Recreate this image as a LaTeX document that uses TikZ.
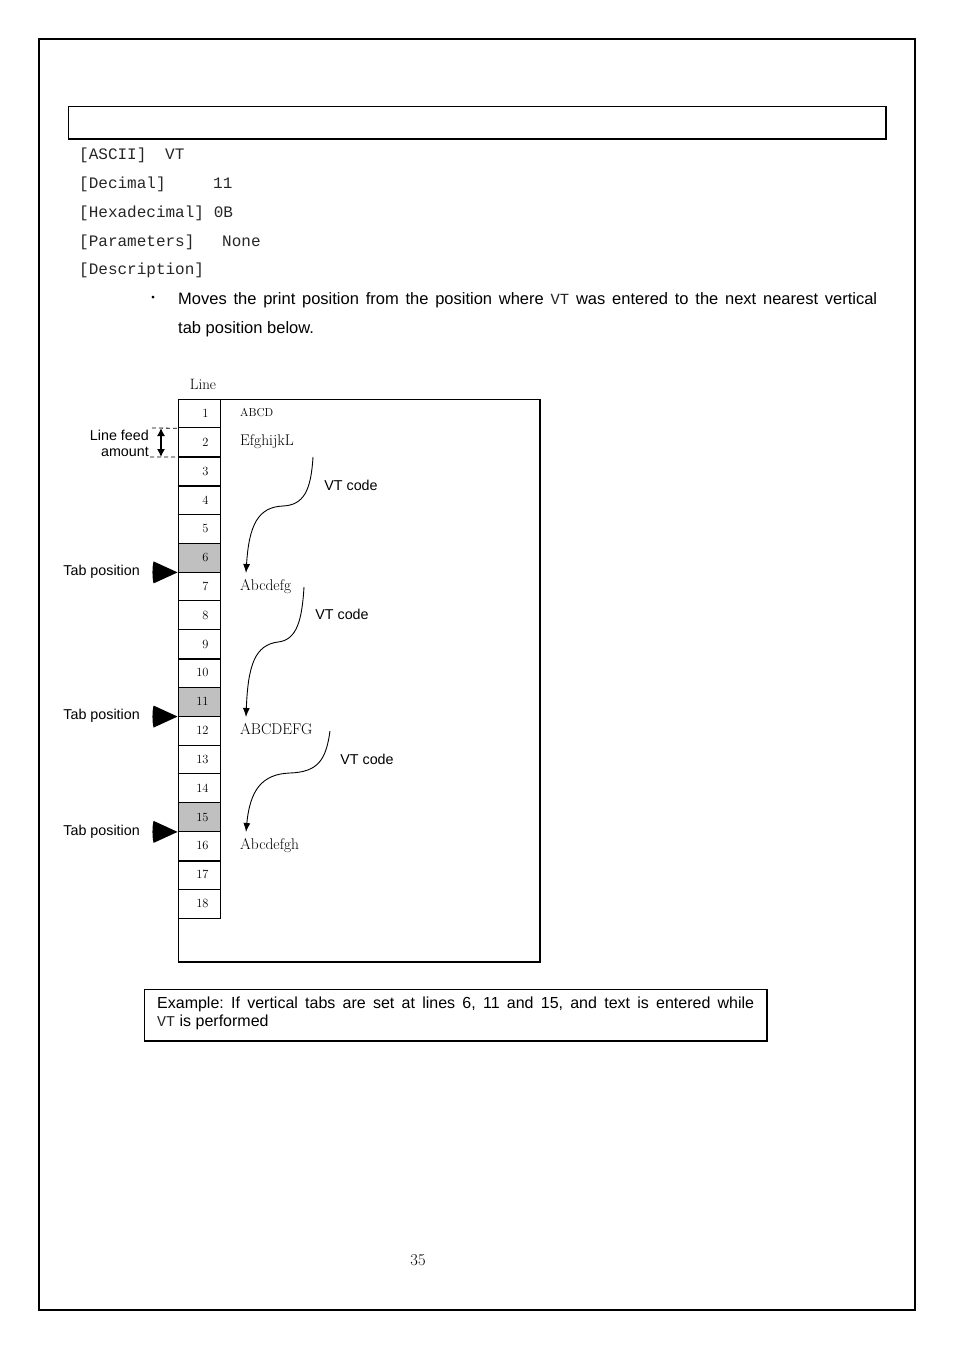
\documentclass[tikz,border=0pt]{standalone}
\usepackage{fontspec}
\setsansfont{Liberation Sans}
\setmonofont{Liberation Mono}
\newfontfamily\cjkf{Noto Sans CJK JP}
\usetikzlibrary{arrows.meta}
\definecolor{cellgray}{RGB}{192,192,192}
\frenchspacing
\tikzset{
  mono/.style={font=\ttfamily\fontsize{16}{18}\selectfont, anchor=base west, inner sep=0, text=black!85},
  cell/.style={draw, line width=0.8pt, minimum width=42pt, minimum height=28.83pt, inner sep=0pt,
     text width=19pt, align=right, font=\fontsize{12.5}{13}\selectfont},
  tabcell/.style={cell, fill=cellgray},
  sample/.style={font=\fontsize{15.5}{16}\selectfont, anchor=base west, inner sep=0},
  lbl/.style={font=\sffamily\fontsize{14.3}{16}\selectfont, inner sep=0},
  vtarrow/.style={line width=0.9pt, -{Latex[length=9pt,width=7pt]}},
  tabmark/.style={fill=black},
  lfdash/.style={line width=0.8pt, dash pattern=on 4pt off 3pt},
}
\begin{document}
\begin{tikzpicture}[x=1pt,y=-1pt]
\useasboundingbox (0,0) rectangle (954,1350);
% page border
\draw[line width=1.3pt] (39,39) rectangle (915,1310);
% header box
\draw[line width=0.8pt] (68,106) rectangle (886,139);
\draw[line width=1.6pt] (68,139) -- (886,139) -- (886,106);
% mono lines
\node[mono] (a1) at (79,159) {[ASCII]};
\node[mono] (a2) at (165,159) {VT};
\node[mono] (d1) at (79,188) {[Decimal]};
\node[mono] (d2) at (213,188) {11};
\node[mono] (h1) at (79,217) {[Hexadecimal]};
\node[mono] (h2) at (213.6,217) {0B};
\node[mono] (p1) at (79,246) {[Parameters]};
\node[mono] (p2) at (222,246) {None};
\node[mono] (ds) at (79,274) {[Description]};
% bullet paragraph
\node[anchor=center, inner sep=0, font=\cjkf\fontsize{13}{14}\selectfont] (bul) at (153,299) {・};
\node[anchor=north west, inner sep=0, text width=699pt, align=justify,
      font=\sffamily\fontsize{16.5}{29}\selectfont] (para) at (178,292)
  {Moves the print position from the position where {\ttfamily\fontsize{15.5}{29}\selectfont\color{black!85}VT} was entered to the next nearest vertical\linebreak tab position below.};
% diagram
\node[font=\fontsize{15}{16}\selectfont, inner sep=0] (line) at (203,384) {Line};
\draw[line width=0.8pt] (178,399) rectangle (540,962);
\draw[line width=1.6pt] (178,962) -- (540,962) -- (540,399);
\foreach \i in {1,...,18}{
  \pgfmathsetmacro{\yc}{399+(\i-0.5)*28.833}
  \ifnum\i=6 \node[tabcell] (r\i) at (199,\yc) {\i};
  \else\ifnum\i=11 \node[tabcell] (r\i) at (199,\yc) {\i};
  \else\ifnum\i=15 \node[tabcell] (r\i) at (199,\yc) {\i};
  \else \node[cell] (r\i) at (199,\yc) {\i};
  \fi\fi\fi
}
\foreach \i in {2,3,9,16}{
  \draw[line width=1.8pt] (r\i.south west) -- (r\i.south east);
}
% sample text
\node[sample, font=\fontsize{11.5}{12}\selectfont] (t1) at (240,416) {ABCD};
\node[sample] (t2) at (240,445) {EfghijkL};
\node[sample] (t3) at (240,590) {Abcdefg};
\node[sample] (t4) at (240,734) {ABCDEFG};
\node[sample] (t5) at (240,849) {Abcdefgh};
% VT code curves
\coordinate (c1s) at (313,457);
\coordinate (c1e) at (246,573);
\draw[vtarrow] (c1s) .. controls (311,490) and (304,505) .. (283,506)
   .. controls (258,507) and (249,525) .. (c1e);
\node[lbl] (v1) at (351,485) {VT code};
\coordinate (c2s) at (304,587);
\coordinate (c2e) at (246,717);
\draw[vtarrow] (c2s) .. controls (302,620) and (297,640) .. (278,642)
   .. controls (255,645) and (248,665) .. (c2e);
\node[lbl] (v2) at (342,614) {VT code};
\coordinate (c3s) at (330,731);
\coordinate (c3e) at (246,832);
\draw[vtarrow] (c3s) .. controls (326,760) and (318,772) .. (290,773)
   .. controls (262,774) and (250,790) .. (c3e);
\node[lbl] (v3) at (367,759) {VT code};
% tab position markers
\foreach \r/\n in {6/tp1,11/tp2,15/tp3}{
  \fill[tabmark] (r\r.south west) -- ++(-24,-11) .. controls ++(-1.5,5) and ++(-1.5,-5) .. ++(0,22) -- cycle;
}
\node[lbl, anchor=east] (tl1) at (140,572) {Tab position};
\node[lbl, anchor=east] (tl2) at (140,716) {Tab position};
\node[lbl, anchor=east] (tl3) at (140,832) {Tab position};
% line feed amount
\draw[lfdash] (152,428) -- (r1.south west);
\draw[lfdash] (150,457) -- (r2.south west);
\coordinate (lfa) at (161,428);
\coordinate (lfb) at (161,457);
\draw[line width=1.2pt, {Latex[length=8pt,width=8pt]}-{Latex[length=8pt,width=8pt]}] (lfa) -- (lfb);
\node[lbl, anchor=base east] (lf1) at (149,440) {Line feed};
\node[lbl, anchor=base east] (lf2) at (149,456) {amount};
% example box
\draw[line width=0.8pt] (144,989) rectangle (767,1041);
\draw[line width=1.6pt] (144,1041) -- (767,1041) -- (767,989);
\node[anchor=north west, inner sep=0, text width=597pt, align=justify,
      font=\sffamily\fontsize{16}{17.5}\selectfont] (ex) at (157,997)
  {Example: If vertical tabs are set at lines 6, 11 and 15, and text is entered while\linebreak {\ttfamily\fontsize{15}{17.5}\selectfont\color{black!85}VT} is performed};
% page number
\node[font=\fontsize{16.5}{17}\selectfont, inner sep=0] (pg) at (418,1260) {35};
\end{tikzpicture}
\end{document}
